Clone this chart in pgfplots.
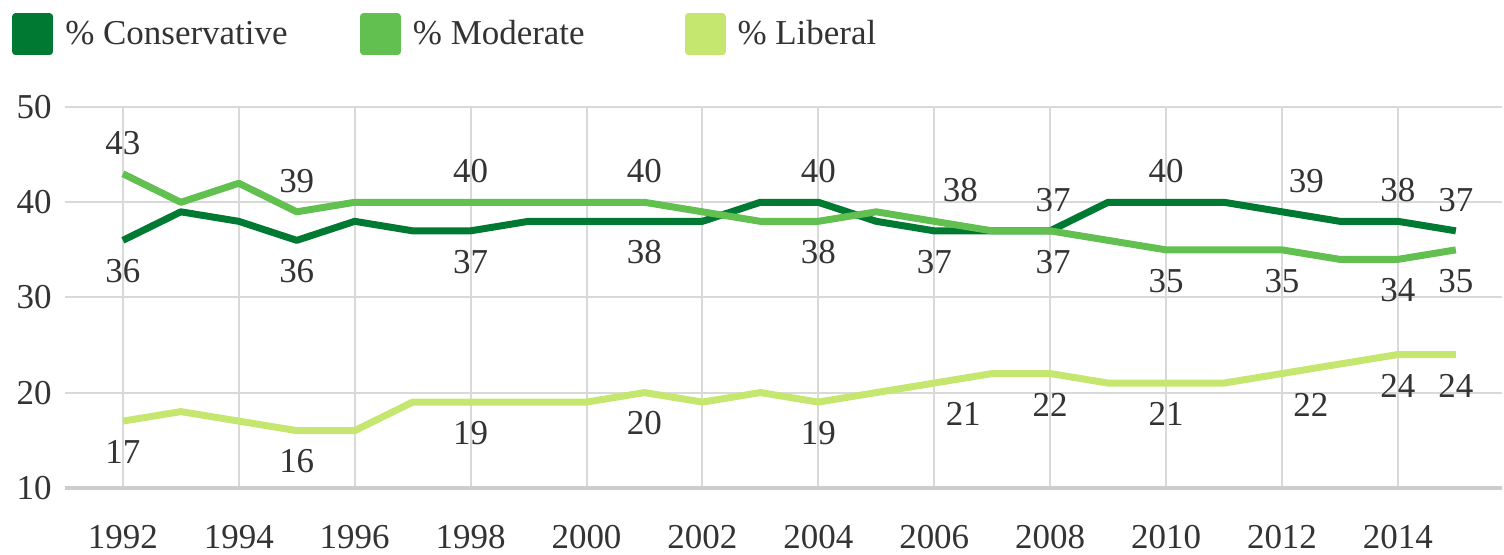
\documentclass[border=0pt]{standalone}
\usepackage{pgfplots}
\pgfplotsset{compat=1.18}
\usepackage{fontspec}
\setmainfont{Liberation Serif}
\definecolor{cons}{RGB}{0,122,51}
\definecolor{mod}{RGB}{98,192,80}
\definecolor{lib}{RGB}{197,231,112}
\definecolor{gridc}{RGB}{217,217,217}
\definecolor{basec}{RGB}{205,205,205}
\definecolor{txt}{RGB}{51,51,51}
\newcommand\fs{\fontsize{17.5}{21}\selectfont}
\begin{document}
\begin{tikzpicture}
\begin{axis}[
  name=ax,
  scale only axis,
  width=719.5pt, height=190.5pt,
  xmin=1991, xmax=2015.8,
  ymin=10, ymax=50,
  axis x line*=bottom, axis y line*=left,
  x axis line style={draw=basec, line width=1.8pt, -},
  y axis line style={draw=none},
  xtick={1992,1994,...,2014},
  ytick={10,20,30,40,50},
  major tick length=0pt,
  xmajorgrids, ymajorgrids,
  grid style={draw=gridc, line width=1pt},
  tick label style={font=\fs, text=txt, inner sep=0pt},
  xticklabel style={anchor=north, yshift=-18.5pt},
  yticklabel style={anchor=east, xshift=-6.5pt},
  /pgf/number format/1000 sep={},
  /pgf/number format/assume math mode=true,
  clip=false,
  legend style={at={(0,1)}, anchor=north west, xshift=-26.5pt, yshift=47.15pt,
    draw=none, fill=none, inner sep=0pt, font=\fs, text=txt,
    column sep=6pt, nodes={inner sep=0pt}},
  legend columns=3,
  legend image code/.code={\fill (0pt,-8.75pt) rectangle (17pt,8.75pt);},
  every axis plot/.append style={line width=3.5pt, line join=round},
]
\addplot[cons] coordinates {
(1992,36) (1993,39) (1994,38) (1995,36) (1996,38) (1997,37) (1998,37) (1999,38)
(2000,38) (2001,38) (2002,38) (2003,40) (2004,40) (2005,38) (2006,37) (2007,37)
(2008,37) (2009,40) (2010,40) (2011,40) (2012,39) (2013,38) (2014,38) (2015,37)};
\addlegendentry{\makebox[141.5pt][l]{\% Conservative}}
\addplot[mod] coordinates {
(1992,43) (1993,40) (1994,42) (1995,39) (1996,40) (1997,40) (1998,40) (1999,40)
(2000,40) (2001,40) (2002,39) (2003,38) (2004,38) (2005,39) (2006,38) (2007,37)
(2008,37) (2009,36) (2010,35) (2011,35) (2012,35) (2013,34) (2014,34) (2015,35)};
\addlegendentry{\makebox[130pt][l]{\% Moderate}}
\addplot[lib] coordinates {
(1992,17) (1993,18) (1994,17) (1995,16) (1996,16) (1997,19) (1998,19) (1999,19)
(2000,19) (2001,20) (2002,19) (2003,20) (2004,19) (2005,20) (2006,21) (2007,22)
(2008,22) (2009,21) (2010,21) (2011,21) (2012,22) (2013,23) (2014,24) (2015,24)};
\addlegendentry{\% Liberal}
% labels above
\addplot[forget plot, draw=none, nodes near coords,
  nodes near coords style={anchor=center, yshift=15.5pt, font=\fs, text=txt}] coordinates {
(1992,43) (1995,39) (1998,40) (2001,40) (2004,40) (2006.45,38) (2008.05,37)
(2010,40) (2012.42,39) (2014,38) (2015,37)};
% labels below
\addplot[forget plot, draw=none, nodes near coords,
  nodes near coords style={anchor=center, yshift=-15.5pt, font=\fs, text=txt}] coordinates {
(1992,36) (1995,36) (1998,37) (2001,38) (2004,38) (2006,37) (2008.05,37)
(2010,35) (2012,35) (2014,34) (2015,35)
(1992,17) (1995,16) (1998,19) (2001,20) (2004,19) (2006.5,21) (2008,22)
(2010,21) (2012.5,22) (2014,24) (2015,24)};
\end{axis}
\path ([xshift=-32.5pt,yshift=-33.35pt]ax.south west) rectangle ([yshift=53.65pt]ax.north east);
\end{tikzpicture}
\end{document}
